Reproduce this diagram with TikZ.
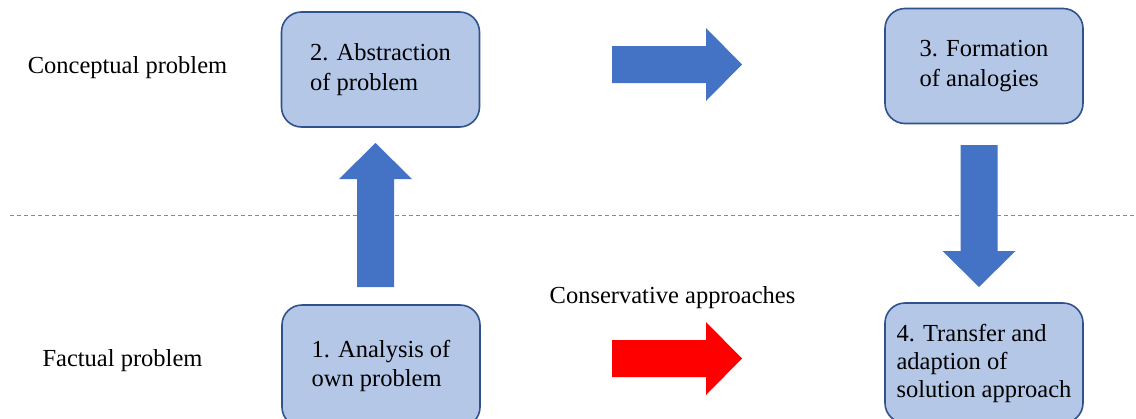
\documentclass[tikz,border=0pt]{standalone}
\usepackage{fontspec}
\setmainfont{Liberation Serif}
\usetikzlibrary{positioning}
\definecolor{boxfill}{HTML}{B4C7E7}
\definecolor{boxline}{HTML}{2F528F}
\definecolor{arrblue}{HTML}{4472C4}
% block arrow: colour, tail point, direction, length
\newcommand{\blockarrow}[4]{%
 \fill[#1, shift={#2}, rotate=#3] (0,-18.5) -- ({#4-36},-18.5) -- ({#4-36},-36.5) -- (#4,0)
  -- ({#4-36},36.5) -- ({#4-36},18.5) -- (0,18.5) -- cycle;}
\begin{document}
\begin{tikzpicture}[x=1pt, y=-1pt,
 font=\fontsize{24.5}{29.5}\selectfont,
 stepbox/.style={draw=boxline, line width=1.6pt, fill=boxfill, rounded corners=20pt,
  minimum width=198pt, minimum height=115pt, align=left, inner sep=0pt},
 sidelabel/.style={inner sep=0pt}]
\useasboundingbox (0,0) rectangle (1136,418);
\node[stepbox] (abstr) at (380.5,69.5) {2. Abstraction\\of problem};
\node[stepbox] (analog) at (984,66) {3. Formation\\of analogies};
\node[stepbox, minimum height=122pt] (analys) at (381,366) {1. Analysis of\\own problem};
\node[stepbox, minimum height=120pt, font=\fontsize{24.5}{28}\selectfont] (transf) at (984,363) {4. Transfer and\\adaption of\\solution approach};
\node[sidelabel] (concept) at (127.5,68) {Conceptual problem};
\node[sidelabel] (fact) at (122.5,361) {Factual problem};
\node[sidelabel] (conserv) at (672.5,298) {Conservative approaches};
\draw[arrblue!80, line width=1pt, dash pattern=on 4pt off 3pt] (10,215) -- (1136,215);
\blockarrow{arrblue}{(612,64.5)}{0}{130}
\blockarrow{red}{(612,358.5)}{0}{130}
\blockarrow{arrblue}{(375.5,287)}{90}{144}
\blockarrow{arrblue}{(979,145)}{-90}{142}
\end{tikzpicture}
\end{document}
